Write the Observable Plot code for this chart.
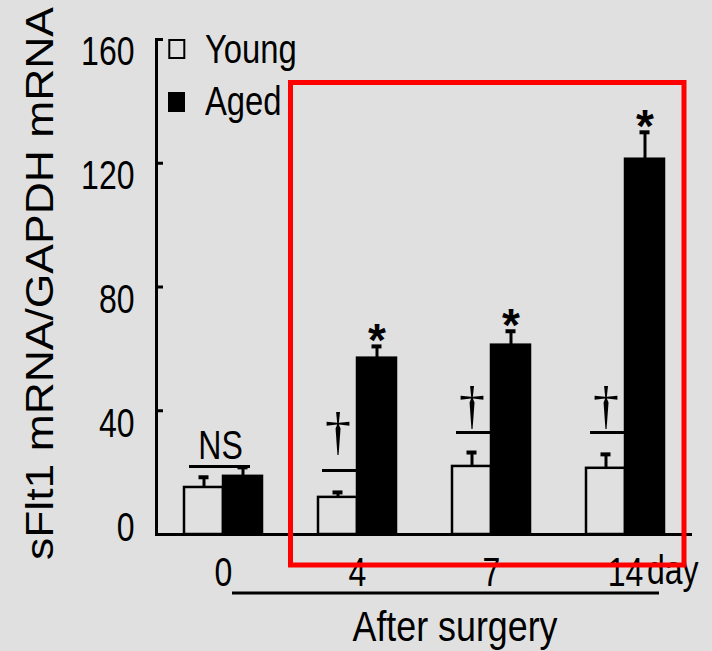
<!DOCTYPE html>
<html><head><meta charset="utf-8">
<script src="https://cdn.jsdelivr.net/npm/d3@7"></script>
<script src="https://cdn.jsdelivr.net/npm/@observablehq/plot@0.6"></script>
<style>
html,body{margin:0;padding:0;background:#e0e0e0;}
#chart{width:712px;height:651px;position:relative;}
</style></head><body><div id="chart"></div>
<script>
// ---- data ----
const days = ["0", "4", "7", "14"];
const groups = ["Young", "Aged"];
const youngMean = [15.2, 12.0, 22.0, 21.4];
const youngErr  = [3.3, 1.6, 4.5, 4.5];
const agedMean  = [18.8, 57.0, 61.2, 121.3];
const agedErr   = [2.9, 3.8, 4.5, 8.7];
const yTicks = [0, 40, 80, 120, 160];
const nsDays = ["0"];
const nsLevel = [22.0];
const daggerDays = ["4", "7", "14"];
const daggerLineLevel = [20.7, 33.0, 33.0];
const daggerLevel = [24.9, 33.6, 33.6];
const starDays = ["4", "7", "14"];
const yTitle = "sFlt1 mRNA/GAPDH mRNA";
const xTitle = "After surgery";
const xUnit = "day";

// ---- tables ----
const rows = days.flatMap((d, i) => [
  {day: d, group: "Young", mean: youngMean[i], top: youngMean[i] + youngErr[i]},
  {day: d, group: "Aged", mean: agedMean[i], top: agedMean[i] + agedErr[i]}
]);
const ns = nsDays.map((d, i) => ({day: d, level: nsLevel[i], label: "NS"}));
const daggers = daggerDays.map((d, i) => ({day: d, line: daggerLineLevel[i], level: daggerLevel[i], group: "Young"}));
const stars = rows.filter(r => r.group === "Aged" && starDays.includes(r.day));

const BG = "#e0e0e0";
const SANS = "'Liberation Sans', Arial, sans-serif";
const W = 712, H = 651;

const chart = Plot.plot({
  width: W, height: H,
  marginLeft: 155, marginRight: 19, marginTop: 39, marginBottom: 117,
  style: {background: BG, fontFamily: SANS, color: "black"},
  fx: {domain: days, padding: 0, label: null},
  x: {domain: groups, paddingInner: 0, paddingOuter: 0.68, axis: null},
  y: {domain: [0, 160], label: null},
  color: {domain: groups, range: [BG, "#000"]},
  marks: [
    Plot.barY(rows, {fx: "day", x: "group", y: "mean", fill: "group", stroke: "black", strokeWidth: 2.5}),
    Plot.ruleX(rows, {fx: "day", x: "group", y1: "mean", y2: "top", stroke: "black", strokeWidth: 3}),
    Plot.tickY(rows, {fx: "day", x: "group", y: "top", stroke: "black", strokeWidth: 4, insetLeft: 14.5, insetRight: 14.5}),
    Plot.ruleY([0], {stroke: "black", strokeWidth: 3}),
    Plot.frame({anchor: "left", facetAnchor: "left", stroke: "black", strokeWidth: 3}),
    Plot.axisY(yTicks, {tickSize: -7, tickFormat: () => "", strokeWidth: 3, label: null}),
    Plot.axisY(yTicks.filter(v => v > 0), {tickSize: 0, tickPadding: 22, dy: 13, fontSize: 40, label: null}),
    Plot.axisY(yTicks.filter(v => v === 0), {tickSize: 0, tickPadding: 22, dy: -6, fontSize: 40, label: null}),
    Plot.axisFx({anchor: "bottom", tickSize: 0, tickPadding: 23, fontSize: 40, label: null}),
    Plot.ruleY(ns, {fx: "day", y: "level", insetLeft: 33, insetRight: 40, stroke: "black", strokeWidth: 3}),
    Plot.text(ns, {fx: "day", y: "level", text: "label", lineAnchor: "bottom", dy: -7, dx: -3, fontSize: 40}),
    Plot.ruleY(daggers, {fx: "day", y: "line", insetLeft: 32, insetRight: 67, stroke: "black", strokeWidth: 3}),
    Plot.text(daggers, {fx: "day", x: "group", y: "level", text: () => "\u2020", lineAnchor: "bottom", dy: -8, fontSize: 52, fontFamily: "'Liberation Serif', 'Times New Roman', serif"}),
    Plot.text(stars, {fx: "day", x: "group", y: "top", text: () => "*", lineAnchor: "bottom", dy: 10, fontSize: 46, fontWeight: "bold", fontFamily: SANS})
  ]
});

document.getElementById("chart").appendChild(chart);

// ---- decorations outside the data marks ----
const svg = d3.select(chart);
const fx = chart.scale("fx");
const y = chart.scale("y");
const bw = fx.bandwidth;
const x0 = fx.apply("0"), x14 = fx.apply("14"), x4 = fx.apply("4");

// y title (rotated, stretched)
svg.append("text")
  .attr("class", "keep")
  .attr("transform", `translate(53,${(y.apply(160) + y.apply(0)) / 2 - 3}) rotate(-90)`)
  .attr("text-anchor", "middle")
  .attr("font-family", SANS)
  .attr("font-size", 38)
  .attr("textLength", 553).attr("lengthAdjust", "spacingAndGlyphs")
  .text(yTitle);

// legend
const lg = svg.append("g").attr("font-family", SANS).attr("font-size", 41).attr("text-anchor", "start");
lg.append("rect").attr("x", 169.3).attr("y", 40).attr("width", 15).attr("height", 18)
  .attr("fill", BG).attr("stroke", "black").attr("stroke-width", 2);
lg.append("text").attr("x", 205).attr("y", 63).text(groups[0]);
lg.append("rect").attr("x", 168).attr("y", 92).attr("width", 17).attr("height", 20).attr("fill", "black");
lg.append("text").attr("x", 205).attr("y", 115).text(groups[1]);

// unit "day"
svg.append("text").attr("x", x14 + bw - 45).attr("y", y.apply(0) + 50)
  .attr("text-anchor", "start")
  .attr("font-family", SANS).attr("font-size", 40).text(xUnit);

// underline + x title
svg.append("line").attr("x1", x0 + 76).attr("x2", x14 + bw - 33)
  .attr("y1", 593).attr("y2", 593).attr("stroke", "black").attr("stroke-width", 3);
svg.append("text").attr("class", "keep").attr("x", 455).attr("y", 641).attr("text-anchor", "middle")
  .attr("font-family", SANS).attr("font-size", 42)
  .attr("textLength", 205).attr("lengthAdjust", "spacingAndGlyphs").text(xTitle);

// condensed look of the original typeface: horizontal scale about each text's anchor x
svg.selectAll("text").each(function() {
  if (this.classList.contains("keep")) return;
  const t = this.textContent;
  if (t === "*" || t === "\u2020") return;
  const xa = this.getAttribute("x");
  const ax = xa && !/em$/.test(xa) ? parseFloat(xa) || 0 : 0;
  const tr = this.getAttribute("transform") || "";
  this.setAttribute("transform", `${tr} translate(${ax},0) scale(0.8,1) translate(${-ax},0)`.trim());
});

// red highlight box
svg.append("rect").attr("x", x4 + 0.5).attr("y", 82.5)
  .attr("width", x14 + bw - 8 - x4 - 0.5).attr("height", 565 - 82.5)
  .attr("fill", "none").attr("stroke", "#ff0000").attr("stroke-width", 5);
</script></body></html>
